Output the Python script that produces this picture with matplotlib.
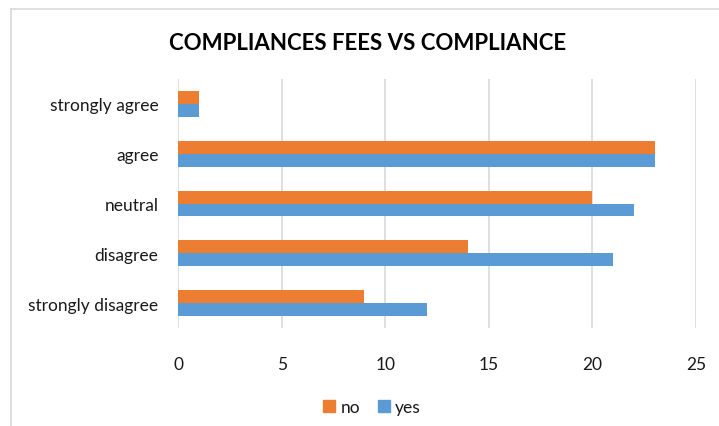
import numpy as np
import matplotlib.pyplot as plt
from matplotlib.lines import Line2D
from matplotlib.patches import Patch

plt.rcParams['font.family'] = ['Lato', 'DejaVu Sans']

# data
categories = ['strongly disagree', 'disagree', 'neutral', 'agree', 'strongly agree']
yes_vals = [12, 21, 22, 23, 1]
no_vals = [9, 14, 20, 23, 1]
x_ticks = [0, 5, 10, 15, 20, 25]

c_no = '#ED7D31'
c_yes = '#5B9BD5'
txt = '#1a1a1a'

fig = plt.figure(figsize=(7.19, 4.27), dpi=100)
ax = fig.add_axes([178/719, 1-329/427, (696-178)/719, (329-80)/427])

y = np.arange(len(categories))
h = 0.26
ax.barh(y - h/2, yes_vals, height=h, color=c_yes, zorder=3)
ax.barh(y + h/2, no_vals, height=h, color=c_no, zorder=3)

ax.set_xlim(0, 25)
ax.set_ylim(-0.5, len(categories) - 0.5)
ax.set_xticks(x_ticks)
ax.set_xticklabels([str(t) for t in x_ticks], fontsize=12.5, color=txt)
ax.set_yticks(y)
ax.set_yticklabels(categories, fontsize=12.5, color=txt)
ax.tick_params(length=0, pad=14)
ax.tick_params(axis='x', pad=20)
ax.grid(axis='x', color='#D9D9D9', linewidth=1.2, zorder=0)
for s in ax.spines.values():
    s.set_visible(False)

fig.text(368/719, 1-44/427, 'COMPLIANCES FEES VS COMPLIANCE', fontsize=16,
         fontweight='bold', color='black', ha='center', va='center')

handles = [Patch(color=c_no, label='no'), Patch(color=c_yes, label='yes')]
fig.legend(handles=handles, loc='center', bbox_to_anchor=(372/719, 1-408/427),
           ncol=2, frameon=False, fontsize=12.5, handlelength=0.7, handleheight=0.7,
           handletextpad=0.3, columnspacing=1.0, labelcolor=txt)

# chart frame (left and top edges visible)
fig.add_artist(Line2D([11/719, 11/719], [0, 1-10/427], color='#D9D9D9', lw=1.2))
fig.add_artist(Line2D([11/719, 1], [1-10/427, 1-10/427], color='#D9D9D9', lw=1.2))

fig.savefig('out.png', dpi=100)
